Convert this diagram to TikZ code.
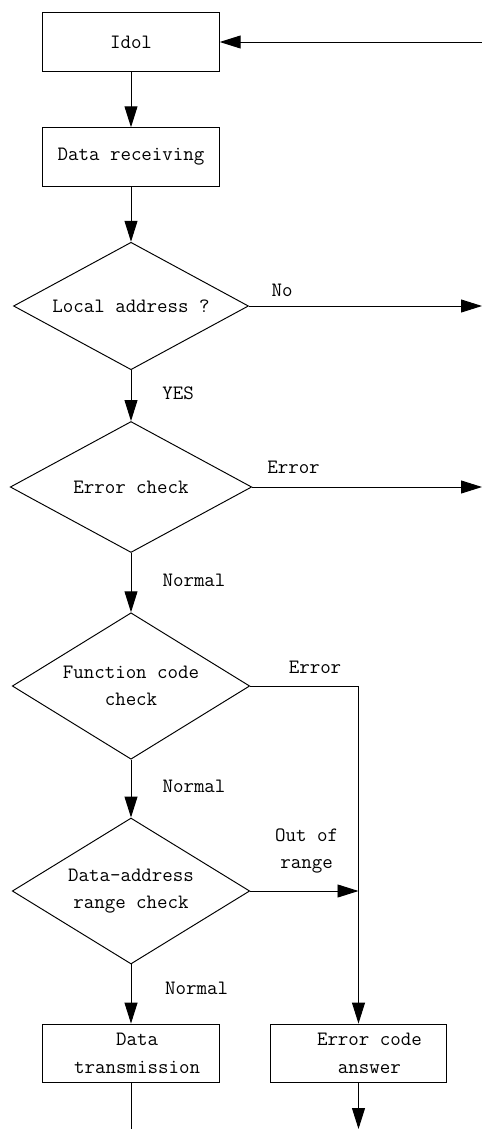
\documentclass[tikz,border=0pt]{standalone}
\usepackage{fontspec}
\setmonofont{Latin Modern Mono}
\usetikzlibrary{shapes.geometric,arrows.meta}

\tikzset{
    every node/.style={font=\ttfamily\fontsize{11.6pt}{15.7pt}\selectfont},
    stepbox/.style={draw, line width=0.55pt, minimum width=3.53cm, minimum height=1.17cm, inner sep=0pt, align=center},
    decide/.style={draw, diamond, line width=0.55pt, inner sep=0pt, align=center},
    flow/.style={line width=0.55pt, -{Triangle[length=0.42cm,width=0.26cm]}},
    plain/.style={line width=0.55pt}
}

\begin{document}
\begin{tikzpicture}[x=0.02cm, y=-0.02cm]
    \useasboundingbox (0,0) rectangle (482,1129);

    \node[stepbox] (idol) at (131,42) {Idol};
    \node[stepbox] (recv) at (131,157) {Data receiving};
    \node[decide, aspect=1.84, minimum width=4.70cm, minimum height=2.55cm] (local) at (131,306) {Local address ?};
    \node[decide, aspect=1.84, minimum width=4.83cm, minimum height=2.62cm] (crc) at (131,487) {Error check};
    \node[decide, aspect=1.62, minimum width=4.75cm, minimum height=2.93cm] (func) at (131,686) {Function code\\check};
    \node[decide, aspect=1.62, minimum width=4.75cm, minimum height=2.92cm] (range) at (131,891) {Data-address\\range check};
    \node[stepbox] (send) at (131,1053.3) {\hspace{7pt}Data\\\hspace{7pt}transmission};
    \node[stepbox] (answer) at (358.5,1053.3) {\hspace{12.5pt}Error code\\\hspace{12.5pt}answer};

    \coordinate (back) at (482,42);
    \coordinate (noout) at (482,306);
    \coordinate (errout) at (482,487);
    \coordinate (join) at (358.5,891);
    \coordinate (sendout) at (131,1129);
    \coordinate (answerout) at (358.5,1129);

	% main path
    \draw[flow] (back) -- (idol.east);
    \draw[flow] (idol) -- (recv);
    \draw[flow] (recv) -- (local);
    \draw[flow] (local) -- (crc);
    \draw[flow] (crc) -- (func);
    \draw[flow] (func) -- (range);
    \draw[flow] (range) -- (send);
    \draw[plain] (send) -- (sendout);

	% exits on the right
    \draw[flow] (local.east) -- (noout);
    \draw[flow] (crc.east) -- (errout);
    \draw[plain] (func.east) -| (join);
    \draw[flow] (join) -- (answer.north);
    \draw[flow] (range.east) -- (join);
    \draw[flow] (answer.south) -- (answerout);

    \node at (282,290) {No};
    \node at (178,393) {YES};
    \node at (293.5,467) {Error};
    \node at (194,580) {Normal};
    \node at (315,667) {Error};
    \node at (194,786) {Normal};
    \node[align=center] at (306.7,851) {Out of\\range};
    \node at (196.7,988) {Normal};
\end{tikzpicture}
\end{document}
